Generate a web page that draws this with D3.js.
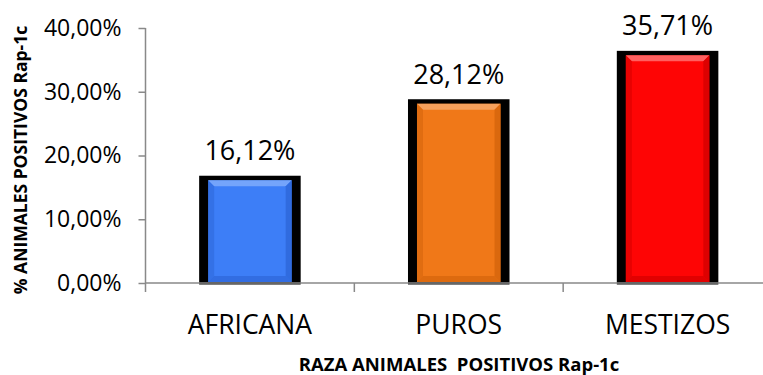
<!DOCTYPE html>
<html>
<head>
<meta charset="utf-8">
<script src="https://cdn.jsdelivr.net/npm/d3@7/dist/d3.min.js"></script>
<style>
  html, body { margin: 0; padding: 0; background: #ffffff; }
  svg { display: block; }
  text { font-family: "Open Sans", "Liberation Sans", sans-serif; fill: #000; }
</style>
</head>
<body>
<svg id="chart" width="763" height="375"></svg>
<script>
// Breeds and share of Rap-1c positive animals (%)
const categories = ["AFRICANA", "PUROS", "MESTIZOS"];
const values = [16.12, 28.12, 35.71];
const valueLabels = ["16,12%", "28,12%", "35,71%"];
const yTicks = [0, 10, 20, 30, 40];
const yTickLabels = ["0,00%", "10,00%", "20,00%", "30,00%", "40,00%"];
const barColors = ["#3d7ef7", "#f07818", "#fe0505"];
const bevelLight = ["#7aa8fb", "#f6a463", "#ff6a6a"];
const bevelDark = ["#2d66d8", "#d4640c", "#d40000"];

const svg = d3.select("#chart");
const plotLeft = 145.5, plotBottom = 283, plotTop = 28, plotRight = 772;

const x = d3.scaleBand().domain(categories).range([plotLeft, plotRight]).paddingInner(0.6).paddingOuter(0.3);
const y = d3.scaleLinear().domain([0, 40]).range([plotBottom, plotTop]);

const frameExtra = 9;   // black frame around each bar
const frameTop = 4.5;
const bev = 6;          // bevel depth

const bars = svg.append("g").selectAll("g.bar")
  .data(categories.map((c, i) => ({ c, v: values[i], i })))
  .join("g").attr("class", "bar");

// black backing frame
bars.append("rect")
  .attr("x", d => x(d.c) - frameExtra)
  .attr("y", d => y(d.v) - frameTop)
  .attr("width", x.bandwidth() + 2 * frameExtra)
  .attr("height", d => y(0) - y(d.v) + frameTop + 1.5)
  .attr("fill", "#000");

// bevelled coloured face
bars.each(function (d) {
  const g = d3.select(this);
  const x0 = x(d.c), x1 = x0 + x.bandwidth();
  const y0 = y(d.v), y1 = y(0) - 1;
  g.append("rect").attr("x", x0).attr("y", y0).attr("width", x1 - x0).attr("height", y1 - y0)
    .attr("fill", barColors[d.i]);
  const poly = (pts, fill, op) => g.append("polygon")
    .attr("points", pts.map(p => p.join(",")).join(" "))
    .attr("fill", fill).attr("opacity", op);
  poly([[x0, y0], [x1, y0], [x1 - bev, y0 + bev], [x0 + bev, y0 + bev]], bevelLight[d.i], 0.9);
  poly([[x0, y0], [x0 + bev, y0 + bev], [x0 + bev, y1 - bev], [x0, y1]], bevelDark[d.i], 0.55);
  poly([[x1, y0], [x1 - bev, y0 + bev], [x1 - bev, y1 - bev], [x1, y1]], bevelDark[d.i], 0.8);
  poly([[x0, y1], [x0 + bev, y1 - bev], [x1 - bev, y1 - bev], [x1, y1]], bevelDark[d.i], 0.7);
});

// value labels
bars.append("text")
  .attr("x", d => x(d.c) + x.bandwidth() / 2)
  .attr("y", d => y(d.v) - 20)
  .attr("text-anchor", "middle")
  .attr("font-size", 27)
  .text(d => valueLabels[d.i]);

// y axis
const yAxis = svg.append("g")
  .attr("transform", `translate(${plotLeft},0)`)
  .call(d3.axisLeft(y).tickValues(yTicks).tickFormat((d, i) => yTickLabels[i]).tickSize(7).tickPadding(17));
yAxis.select(".domain").attr("d", `M0,${plotTop}V${plotBottom + 9}`);
yAxis.selectAll("path, line").attr("stroke", "#898989").attr("stroke-width", 1.5);
yAxis.selectAll("text").attr("font-size", 23).attr("font-family", "'Open Sans', sans-serif");

// x axis
const step = x.step();
const bounds = categories.map((c, i) => plotLeft + i * step);
const xAxis = svg.append("g");
xAxis.append("line").attr("x1", plotLeft).attr("x2", plotRight).attr("y1", plotBottom).attr("y2", plotBottom)
  .attr("stroke", "#898989").attr("stroke-width", 1.5);
xAxis.selectAll("line.tick").data(bounds.slice(1)).join("line").attr("class", "tick")
  .attr("x1", d => d).attr("x2", d => d).attr("y1", plotBottom).attr("y2", plotBottom + 9)
  .attr("stroke", "#898989").attr("stroke-width", 1.5);
xAxis.selectAll("text").data(categories).join("text")
  .attr("x", d => x(d) + x.bandwidth() / 2)
  .attr("y", 334)
  .attr("text-anchor", "middle")
  .attr("font-size", 26.5)
  .text(d => d);

// axis titles
svg.append("text")
  .attr("x", 459).attr("y", 371)
  .attr("text-anchor", "middle")
  .attr("font-size", 18.5).attr("font-weight", "bold")
  .style("white-space", "pre")
  .text("RAZA ANIMALES  POSITIVOS Rap-1c");

svg.append("text")
  .attr("transform", "translate(27,160) rotate(-90)")
  .attr("text-anchor", "middle")
  .attr("font-size", 17.5).attr("font-weight", "bold")
  .text("% ANIMALES POSITIVOS Rap-1c");
</script>
</body>
</html>
